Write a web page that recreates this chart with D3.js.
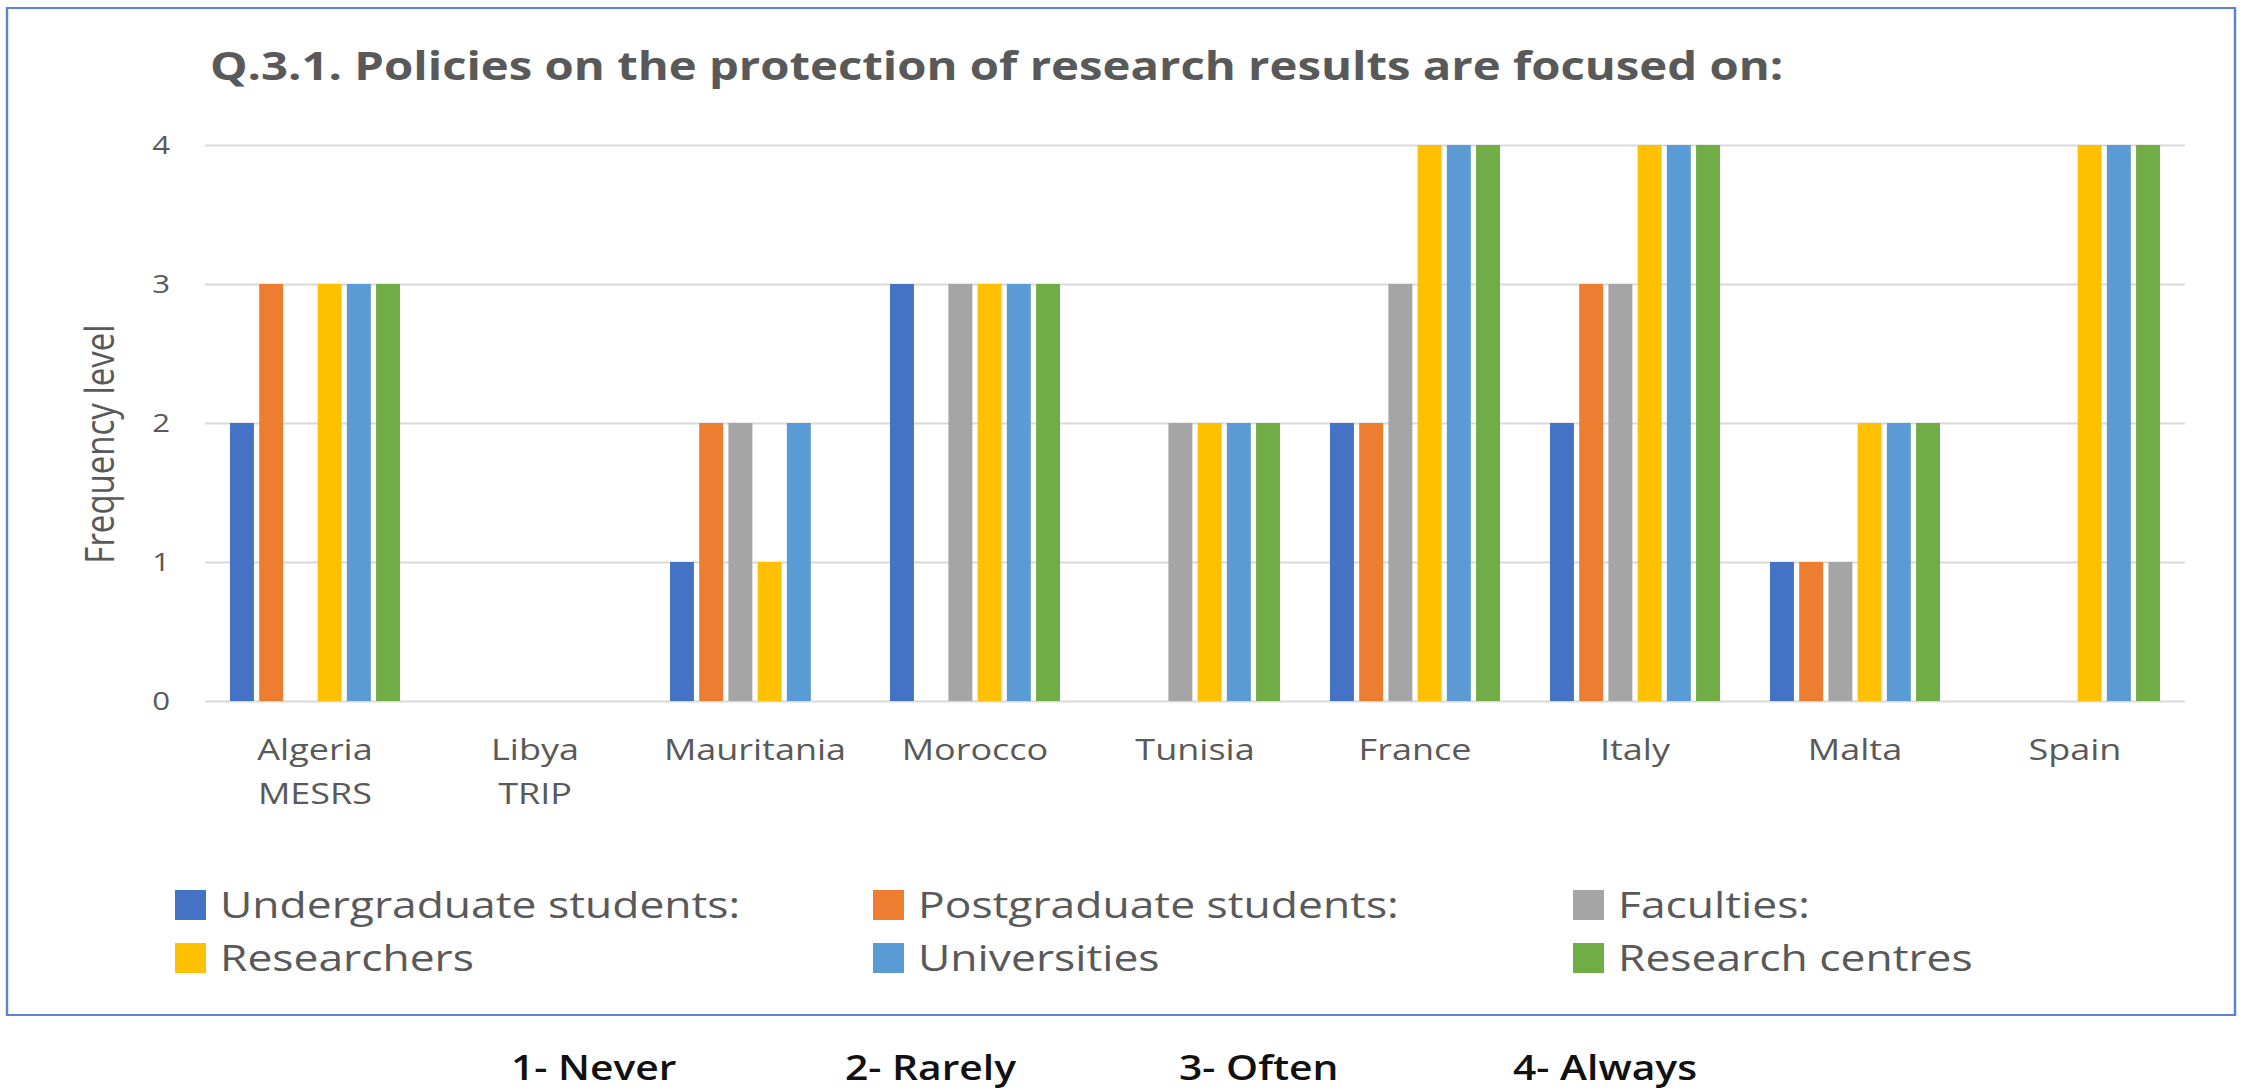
<!DOCTYPE html>
<html>
  <head>
    <meta charset="UTF-8" />
    <title>Q.3.1 Policies on the protection of research results</title>
    <script src="https://d3js.org/d3.v7.min.js"></script>
    <style>
      body {
        margin: 0;
        background: #fff;
      }
      text {
        font-family: 'Open Sans', sans-serif;
      }
    </style>
  </head>

  <body>
    <div id="main"></div>
    <script type="text/javascript">
      const width = 2244;
      const height = 1092;

      // the original picture is stretched sideways, so draw in a narrower
      // space and scale it out
      const SX = 1.2;

      const categories = [
        'Algeria MESRS',
        'Libya TRIP',
        'Mauritania',
        'Morocco',
        'Tunisia',
        'France',
        'Italy',
        'Malta',
        'Spain'
      ];
      const seriesNames = [
        'Undergraduate students:',
        'Postgraduate students:',
        'Faculties:',
        'Researchers',
        'Universities',
        'Research centres'
      ];
      const undergrad = [2, 0, 1, 3, 0, 2, 2, 1, 0];
      const postgrad = [3, 0, 2, 0, 0, 2, 3, 1, 0];
      const faculties = [0, 0, 2, 3, 2, 3, 3, 1, 0];
      const researchers = [3, 0, 1, 3, 2, 4, 4, 2, 4];
      const universities = [3, 0, 2, 3, 2, 4, 4, 2, 4];
      const researchCentres = [3, 0, 0, 3, 2, 4, 4, 2, 4];
      const colors = ['#4472C4', '#ED7D31', '#A5A5A5', '#FFC000', '#5B9BD5', '#70AD47'];
      const yTicks = [0, 1, 2, 3, 4];
      const scaleLabels = ['1- Never', '2- Rarely', '3- Often', '4- Always'];

      const seriesValues = [undergrad, postgrad, faculties, researchers, universities, researchCentres];
      const rows = categories.map((c, i) => ({
        name: c,
        values: seriesValues.map((s, j) => ({ key: seriesNames[j], value: s[i] }))
      }));

      const plotL = 205 / SX;
      const plotR = 2185 / SX;
      const plotT = 145;
      const plotB = 701;
      const grey = '#595959';

      const svg = d3
        .select('div#main')
        .append('svg')
        .attr('width', width)
        .attr('height', height);

      const root = svg.append('g').attr('transform', `scale(${SX},1)`);

      root
        .append('rect')
        .attr('x', 7 / SX)
        .attr('y', 8)
        .attr('width', 2228 / SX)
        .attr('height', 1007)
        .attr('fill', 'none')
        .attr('stroke', '#5a82cf')
        .attr('stroke-width', 2);

      root
        .append('text')
        .attr('x', 210 / SX)
        .attr('y', 80)
        .attr('fill', grey)
        .attr('font-size', 39.4)
        .attr('font-weight', 700)
        .text('Q.3.1. Policies on the protection of research results are focused on:');

      const x0 = d3
        .scaleBand()
        .domain(categories)
        .range([plotL, plotR])
        .paddingInner(0.227)
        .paddingOuter(0.1135);

      const x1 = d3
        .scaleBand()
        .domain(seriesNames)
        .range([0, x0.bandwidth()])
        .paddingInner(0.18);

      const y = d3.scaleLinear().domain([0, 4]).range([plotB, plotT]);

      // y axis with gridlines
      const yAxis = root
        .append('g')
        .attr('transform', `translate(${plotL},0)`)
        .call(
          d3
            .axisLeft(y)
            .tickValues(yTicks)
            .tickFormat(d3.format('d'))
            .tickSize(-(plotR - plotL))
            .tickPadding(35 / SX)
        );
      yAxis.select('.domain').remove();
      yAxis.selectAll('.tick line').attr('stroke', '#d9d9d9').attr('stroke-width', 2);
      yAxis
        .selectAll('.tick text')
        .attr('fill', grey)
        .attr('font-size', 26)
        .attr('font-family', "'Open Sans', sans-serif");

      root
        .append('text')
        .attr('transform', `translate(${100 / SX},${444}) rotate(-90)`)
        .attr('text-anchor', 'middle')
        .attr('dy', '0.35em')
        .attr('fill', grey)
        .attr('font-size', 33)
        .text('Frequency level');

      // bars
      const groups = root
        .selectAll('g.cat')
        .data(rows)
        .join('g')
        .attr('class', 'cat')
        .attr('transform', (d) => `translate(${x0(d.name)},0)`);

      groups
        .selectAll('rect')
        .data((d) => d.values.filter((v) => v.value > 0))
        .join('rect')
        .attr('x', (d) => x1(d.key))
        .attr('y', (d) => y(d.value))
        .attr('width', x1.bandwidth())
        .attr('height', (d) => y(0) - y(d.value))
        .attr('fill', (d) => colors[seriesNames.indexOf(d.key)]);

      // category labels (two lines where the name has two words)
      const catLabels = root
        .selectAll('text.cat-label')
        .data(categories)
        .join('text')
        .attr('class', 'cat-label')
        .attr('text-anchor', 'middle')
        .attr('fill', grey)
        .attr('font-size', 30);
      catLabels
        .selectAll('tspan')
        .data((d) => d.split(' ').map((w) => ({ w, c: d })))
        .join('tspan')
        .attr('x', (d) => x0(d.c) + x0.bandwidth() / 2)
        .attr('y', (d, i) => 760 + i * 44)
        .text((d) => d.w);

      // legend
      const legendX = [175, 873, 1573];
      const legendY = [905, 958];
      const legend = root
        .selectAll('g.legend')
        .data(seriesNames)
        .join('g')
        .attr('class', 'legend')
        .attr('transform', (d, i) => `translate(${legendX[i % 3] / SX},${legendY[Math.floor(i / 3)]})`);
      legend
        .append('rect')
        .attr('x', 0)
        .attr('y', -15)
        .attr('width', 31 / SX)
        .attr('height', 30)
        .attr('fill', (d, i) => colors[i]);
      legend
        .append('text')
        .attr('x', 45 / SX)
        .attr('dy', '0.36em')
        .attr('fill', grey)
        .attr('font-size', 37)
        .text((d) => d);

      // scale note under the chart
      root
        .selectAll('text.scale')
        .data(scaleLabels)
        .join('text')
        .attr('class', 'scale')
        .attr('x', (d, i) => (511 + i * 334) / SX)
        .attr('y', 1080)
        .attr('fill', '#111')
        .attr('font-size', 34)
        .attr('font-weight', 600)
        .text((d) => d);
    </script>
  </body>
</html>
